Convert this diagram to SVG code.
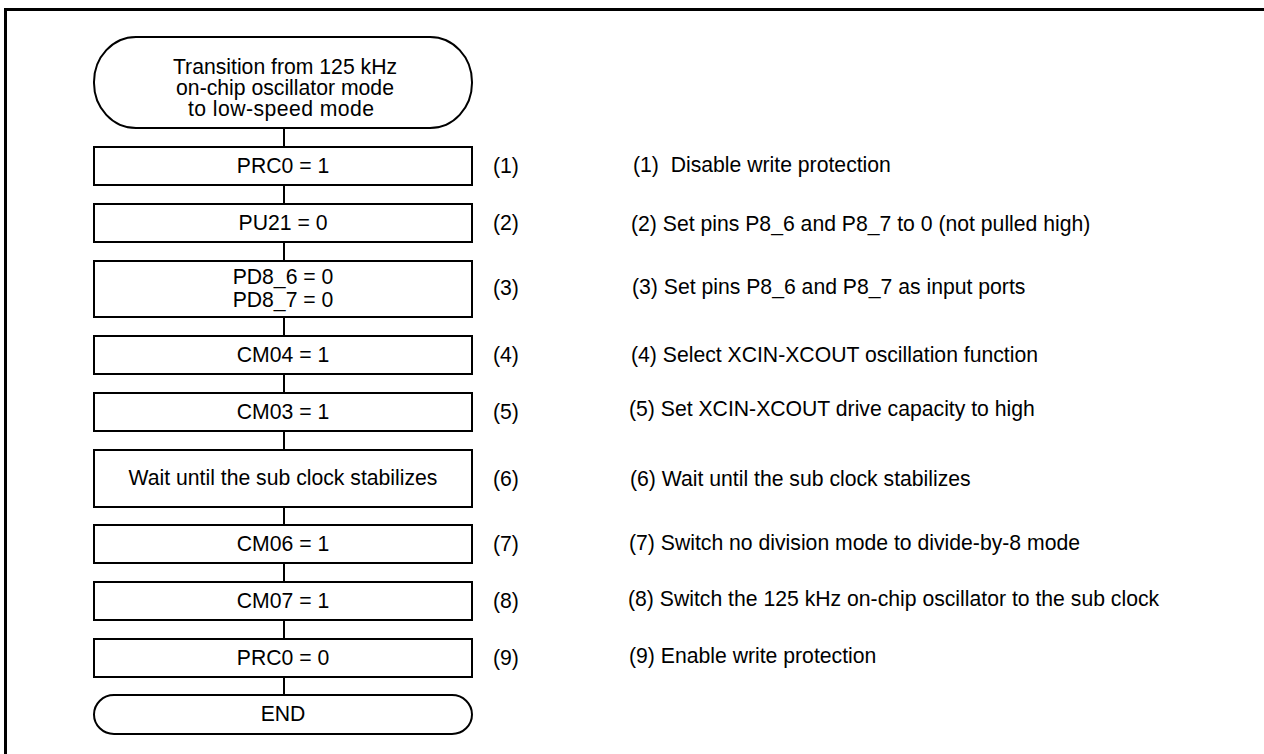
<svg xmlns="http://www.w3.org/2000/svg" width="1264" height="754" viewBox="0 0 1264 754">
<style>
.s{fill:#fff;stroke:#000;stroke-width:2}
.c{stroke:#000;stroke-width:2;fill:none}
text{font-family:"Liberation Sans",Arial,sans-serif;font-size:21.2px;fill:#000}
.m{text-anchor:middle}
</style>
<rect x="0" y="0" width="1264" height="754" fill="#fff"/>
<rect x="5.5" y="9.5" width="1300" height="800" fill="none" stroke="#000" stroke-width="3"/>
<g id="connectors">
<line class="c" x1="284" y1="128" x2="284" y2="147"/>
<line class="c" x1="284" y1="185" x2="284" y2="204"/>
<line class="c" x1="284" y1="242" x2="284" y2="261"/>
<line class="c" x1="284" y1="317" x2="284" y2="336"/>
<line class="c" x1="284" y1="374" x2="284" y2="393"/>
<line class="c" x1="284" y1="431" x2="284" y2="450"/>
<line class="c" x1="284" y1="507" x2="284" y2="525"/>
<line class="c" x1="284" y1="563" x2="284" y2="582"/>
<line class="c" x1="284" y1="620" x2="284" y2="639"/>
<line class="c" x1="284" y1="677" x2="284" y2="695"/>
</g>
<g id="start">
<rect class="s" x="94" y="37" width="378" height="91" rx="42" ry="45"/>
<text class="m" x="285" y="74">Transition from 125 kHz</text>
<text class="m" x="285" y="95">on-chip oscillator mode</text>
<text class="m" x="281" y="116" textLength="186" lengthAdjust="spacing">to low-speed mode</text>
</g>
<g id="step1">
<rect class="s" x="94" y="147" width="378" height="38"/>
<text class="m" x="283" y="173">PRC0 = 1</text>
<text x="493" y="173">(1)</text>
<text x="633" y="172">(1)&#160; Disable write protection</text>
</g>
<g id="step2">
<rect class="s" x="94" y="204" width="378" height="38"/>
<text class="m" x="283" y="230">PU21 = 0</text>
<text x="493" y="230">(2)</text>
<text x="631" y="231">(2) Set pins P8_6 and P8_7 to 0 (not pulled high)</text>
</g>
<g id="step3">
<rect class="s" x="94" y="261" width="378" height="56"/>
<text class="m" x="283" y="284">PD8_6 = 0</text>
<text class="m" x="283" y="307">PD8_7 = 0</text>
<text x="493" y="295">(3)</text>
<text x="632" y="294">(3) Set pins P8_6 and P8_7 as input ports</text>
</g>
<g id="step4">
<rect class="s" x="94" y="336" width="378" height="38"/>
<text class="m" x="283" y="362">CM04 = 1</text>
<text x="493" y="362">(4)</text>
<text x="631" y="362">(4) Select XCIN-XCOUT oscillation function</text>
</g>
<g id="step5">
<rect class="s" x="94" y="393" width="378" height="38"/>
<text class="m" x="283" y="419">CM03 = 1</text>
<text x="493" y="419">(5)</text>
<text x="629" y="416">(5) Set XCIN-XCOUT drive capacity to high</text>
</g>
<g id="step6">
<rect class="s" x="94" y="450" width="378" height="57"/>
<text class="m" x="283" y="485">Wait until the sub clock stabilizes</text>
<text x="493" y="486">(6)</text>
<text x="630" y="486">(6) Wait until the sub clock stabilizes</text>
</g>
<g id="step7">
<rect class="s" x="94" y="525" width="378" height="38"/>
<text class="m" x="283" y="551">CM06 = 1</text>
<text x="493" y="551">(7)</text>
<text x="629" y="550">(7) Switch no division mode to divide-by-8 mode</text>
</g>
<g id="step8">
<rect class="s" x="94" y="582" width="378" height="38"/>
<text class="m" x="283" y="608">CM07 = 1</text>
<text x="493" y="608">(8)</text>
<text x="628" y="606">(8) Switch the 125 kHz on-chip oscillator to the sub clock</text>
</g>
<g id="step9">
<rect class="s" x="94" y="639" width="378" height="38"/>
<text class="m" x="283" y="665">PRC0 = 0</text>
<text x="493" y="665">(9)</text>
<text x="629" y="663">(9) Enable write protection</text>
</g>
<g id="end">
<rect class="s" x="94" y="695" width="378" height="39" rx="20" ry="19.5"/>
<text class="m" x="283" y="721">END</text>
</g>
</svg>
